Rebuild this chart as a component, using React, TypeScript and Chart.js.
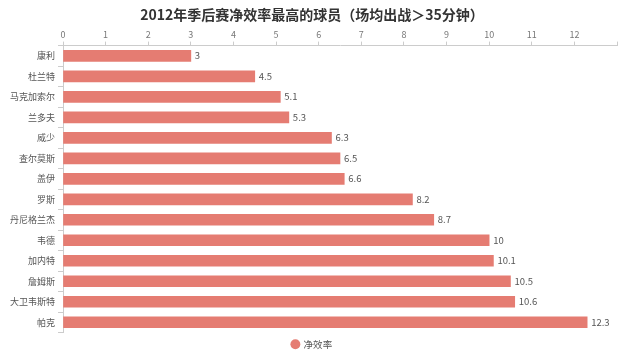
import React, { useEffect, useRef } from "react";
import { Chart, registerables } from "chart.js";

Chart.register(...registerables);

const players = ["康利", "杜兰特", "马克加索尔", "兰多夫", "威少", "查尔莫斯", "盖伊", "罗斯", "丹尼格兰杰", "韦德", "加内特", "詹姆斯", "大卫韦斯特", "帕克"];
const efficiency = [3, 4.5, 5.1, 5.3, 6.3, 6.5, 6.6, 8.2, 8.7, 10, 10.1, 10.5, 10.6, 12.3];
const seriesName = "净效率";
const titleText = "2012年季后赛净效率最高的球员（场均出战＞35分钟）";

const FONT = "'Noto Sans CJK SC', 'Noto Sans', sans-serif";

const valueLabels = {
  id: "valueLabels",
  afterDatasetsDraw(chart: any) {
    const ctx = chart.ctx;
    const meta = chart.getDatasetMeta(0);
    ctx.save();
    ctx.font = `9.5px ${FONT}`;
    ctx.fillStyle = "#555";
    ctx.textAlign = "left";
    ctx.textBaseline = "middle";
    meta.data.forEach((bar: any, i: number) => {
      ctx.fillText(String(efficiency[i]), bar.x + 4, bar.y);
    });
    ctx.restore();
  },
};

export default function App() {
  const ref = useRef<HTMLCanvasElement>(null);
  useEffect(() => {
    const chart = new Chart(ref.current!, {
      type: "bar",
      data: {
        labels: players,
        datasets: [
          {
            label: seriesName,
            data: efficiency,
            backgroundColor: "#e57c72",
            borderWidth: 0,
            barThickness: 11,
          },
        ],
      },
      options: {
        indexAxis: "y",
        animation: false,
        responsive: true,
        maintainAspectRatio: false,
        layout: { padding: { left: 7, right: 23, top: 0, bottom: 0 } },
        plugins: {
          title: {
            display: true,
            text: titleText,
            color: "#333",
            font: { family: FONT, size: 14, weight: "bold" },
            padding: { top: 6, bottom: 4 },
          },
          legend: {
            position: "bottom",
            labels: {
              usePointStyle: true,
              pointStyle: "circle",
              boxWidth: 7,
              boxHeight: 7,
              color: "#555",
              font: { family: FONT, size: 9.5 },
              padding: 7,
            },
          },
          tooltip: { enabled: false },
        },
        scales: {
          x: {
            position: "top",
            min: 0,
            max: 13,
            grid: { drawOnChartArea: false, drawTicks: true, tickLength: 4, color: "#ccc" },
            border: { display: true, color: "#ccc" },
            ticks: {
              stepSize: 1,
              color: "#777",
              font: { family: FONT, size: 9 },
              padding: 2,
              callback: (v: any) => (v === 13 ? "" : v),
            },
          },
          y: {
            grid: { drawOnChartArea: false, offset: true, drawTicks: true, tickLength: 5, color: "#ccc" },
            border: { display: true, color: "#ccc" },
            ticks: {
              color: "#555",
              font: { family: FONT, size: 9 },
              padding: 3,
            },
          },
        },
      },
      plugins: [valueLabels],
    });
    return () => chart.destroy();
  }, []);
  return (
    <div style={{ position: "absolute", left: 0, top: 0, width: 640, height: 359 }}>
      <canvas ref={ref} />
    </div>
  );
}
